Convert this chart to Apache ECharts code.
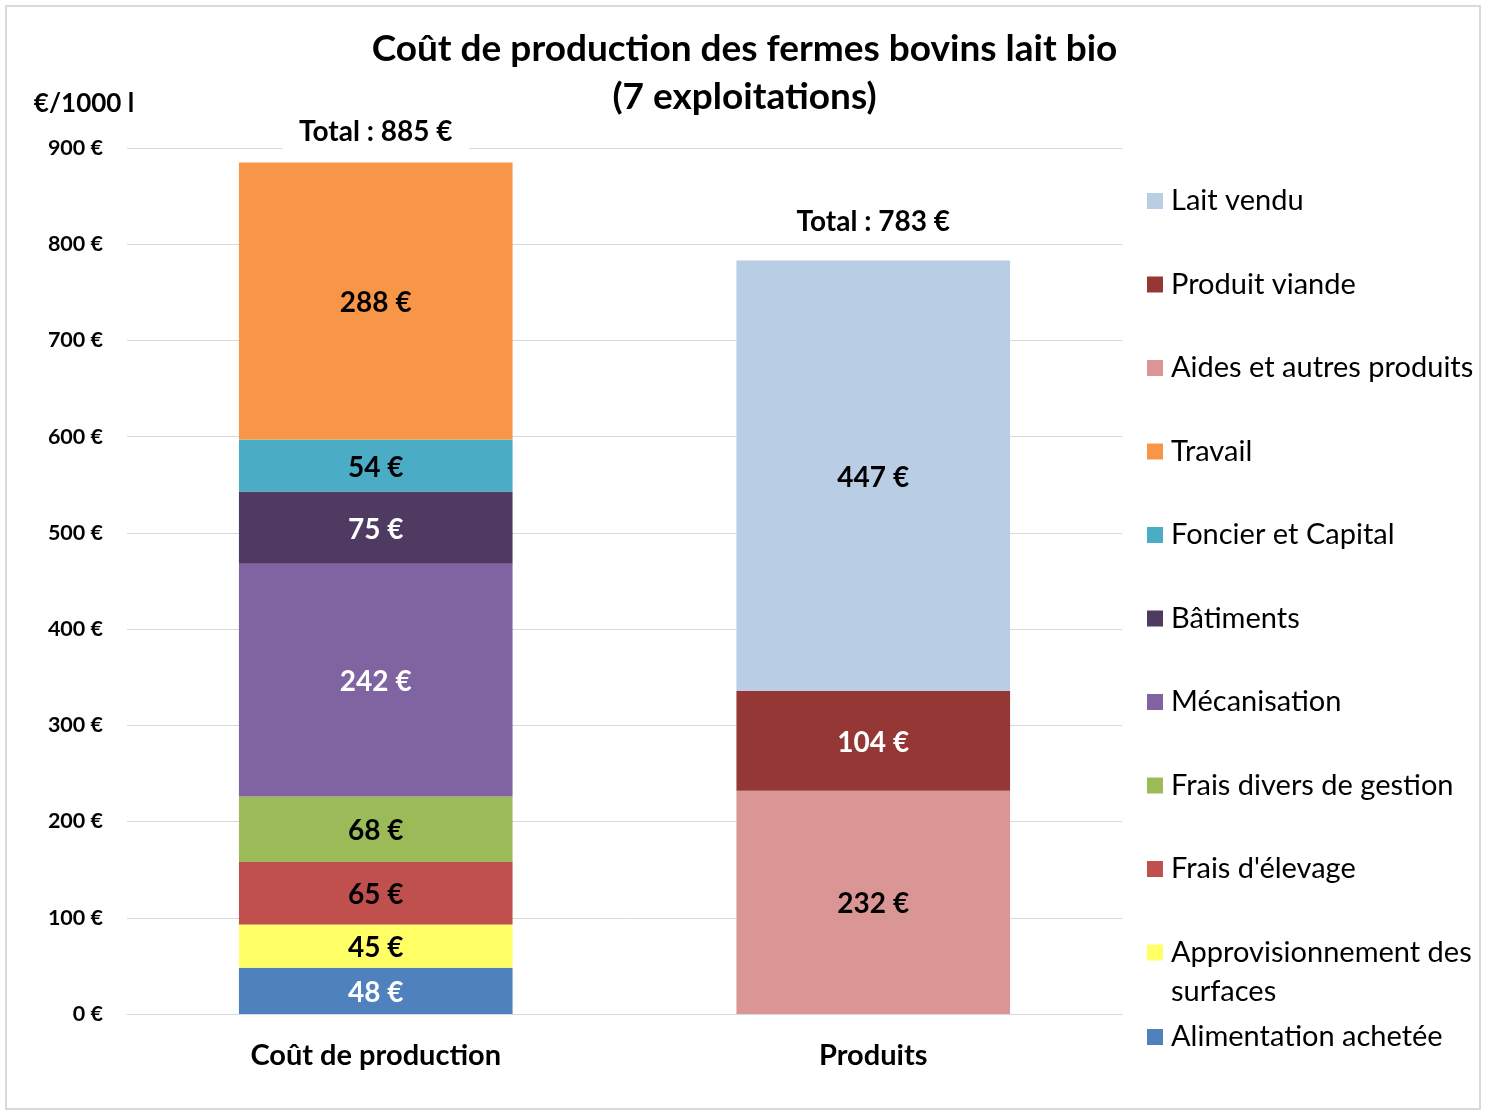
<!DOCTYPE html>
<html>
<head>
<meta charset="utf-8">
<script src="https://cdn.jsdelivr.net/npm/echarts@6/dist/echarts.min.js"></script>
<style>
  html, body { margin: 0; padding: 0; background: #fff; }
  #chart { width: 1489px; height: 1114px; }
</style>
</head>
<body>
<div id="chart"></div>
<script>
// données
const categories = ['Coût de production', 'Produits'];
const coutNames = ['Alimentation achetée', 'Approvisionnement des surfaces', "Frais d'élevage", 'Frais divers de gestion', 'Mécanisation', 'Bâtiments', 'Foncier et Capital', 'Travail'];
const coutValues = [48, 45, 65, 68, 242, 75, 54, 288];
const produitNames = ['Aides et autres produits', 'Produit viande', 'Lait vendu'];
const produitValues = [232, 104, 447];
const totals = [885, 783];
const legendOrder = ['Lait vendu', 'Produit viande', 'Aides et autres produits', 'Travail', 'Foncier et Capital', 'Bâtiments', 'Mécanisation', 'Frais divers de gestion', "Frais d'élevage"];

const colors = {
    'Alimentation achetée': '#4F81BD',
    'Approvisionnement des surfaces': '#FFFF66',
    "Frais d'élevage": '#C0504D',
    'Frais divers de gestion': '#9BBB59',
    'Mécanisation': '#8064A2',
    'Bâtiments': '#4F3B62',
    'Foncier et Capital': '#4BACC6',
    'Travail': '#F79646',
    'Aides et autres produits': '#DA9694',
    'Produit viande': '#953735',
    'Lait vendu': '#B9CDE5'
};
const whiteLabels = ['Alimentation achetée', 'Mécanisation', 'Bâtiments', 'Produit viande'];

const font = 'Lato, Carlito, "Open Sans", sans-serif';

function barSeries(name, value, idx) {
    let data = categories.map((c, i) => i === idx ? value : '-');
    return {
        name: name,
        type: 'bar',
        stack: 'total',
        barWidth: '55%',
        data: data,
        itemStyle: { color: colors[name] },
        label: {
            show: true,
            position: 'inside',
            offset: [0, 2],
            formatter: '{c} €',
            fontFamily: font,
            fontWeight: 'bold',
            fontSize: 28,
            color: whiteLabels.indexOf(name) >= 0 ? '#ffffff' : '#000000'
        },
        emphasis: { disabled: true }
    };
}

let series = [];
coutNames.forEach((n, i) => series.push(barSeries(n, coutValues[i], 0)));
produitNames.forEach((n, i) => series.push(barSeries(n, produitValues[i], 1)));

// totaux au-dessus des barres
const totalLabel = {
    show: true,
    position: 'top',
    formatter: p => 'Total : ' + p.value[1] + ' €',
    fontFamily: font,
    fontWeight: 'bold',
    fontSize: 28,
    color: '#000000',
    opacity: 1,
    backgroundColor: '#ffffff',
    padding: [3, 17]
};
series.push({
    name: 'Total',
    type: 'scatter',
    symbol: 'rect',
    symbolSize: 1,
    silent: true,
    z: 5,
    itemStyle: { color: 'rgba(0,0,0,0)', opacity: 1 },
    emphasis: { disabled: true },
    data: totals.map((v, i) => ({
        value: [i, v],
        label: Object.assign({}, totalLabel, { distance: i === 0 ? 13 : 21 })
    })),
    label: totalLabel
});

const legendText = {
    fontFamily: font,
    fontSize: 29,
    color: '#000',
    lineHeight: 30,
    padding: [0, 0, 0, 3]
};

const chart = echarts.init(document.getElementById('chart'));
chart.setOption({
    backgroundColor: '#ffffff',
    animation: false,
    title: {
        text: 'Coût de production des fermes bovins lait bio\n(7 exploitations)',
        left: 'center',
        top: 25,
        padding: 0,
        textStyle: {
            fontFamily: font,
            fontWeight: 'bold',
            fontSize: 37,
            lineHeight: 48,
            color: '#000'
        }
    },
    legend: [
        {
            orient: 'vertical',
            left: 1147,
            top: 186,
            padding: 0,
            itemWidth: 16,
            itemHeight: 16,
            itemGap: 53.5,
            icon: 'rect',
            data: legendOrder,
            textStyle: legendText
        },
        {
            orient: 'vertical',
            left: 1147,
            top: 894,
            padding: 0,
            itemWidth: 16,
            itemHeight: 16,
            icon: 'rect',
            data: ['Approvisionnement des surfaces'],
            formatter: () => '\nApprovisionnement des\nsurfaces',
            textStyle: Object.assign({}, legendText, { lineHeight: 39 })
        },
        {
            orient: 'vertical',
            left: 1147,
            top: 1022,
            padding: 0,
            itemWidth: 16,
            itemHeight: 16,
            icon: 'rect',
            data: ['Alimentation achetée'],
            textStyle: legendText
        }
    ],
    grid: {
        left: 127,
        right: 367,
        top: 148,
        bottom: 100
    },
    xAxis: {
        type: 'category',
        data: categories,
        axisTick: { show: false },
        axisLine: { lineStyle: { color: '#d9d9d9', width: 1 } },
        axisLabel: {
            margin: 27,
            fontFamily: font,
            fontWeight: 'bold',
            fontSize: 29,
            color: '#000'
        }
    },
    yAxis: {
        type: 'value',
        min: 0,
        max: 900,
        interval: 100,
        name: '€/1000 l',
        nameLocation: 'end',
        nameGap: 44,
        nameTextStyle: {
            fontFamily: font,
            fontWeight: 'bold',
            fontSize: 26,
            color: '#000',
            align: 'center',
            verticalAlign: 'middle',
            padding: [0, 86, 0, 0]
        },
        axisLine: { show: false },
        axisTick: { show: false },
        splitLine: { lineStyle: { color: '#d9d9d9', width: 1 } },
        axisLabel: {
            margin: 24,
            formatter: '{value} €',
            fontFamily: font,
            fontWeight: 'bold',
            fontSize: 21.5,
            color: '#000'
        }
    },
    graphic: [{
        type: 'rect',
        silent: true,
        z: -1,
        shape: { x: 6, y: 6, width: 1474, height: 1103 },
        style: { fill: 'none', stroke: '#d9d9d9', lineWidth: 2 }
    }],
    series: series
});
</script>
</body>
</html>
